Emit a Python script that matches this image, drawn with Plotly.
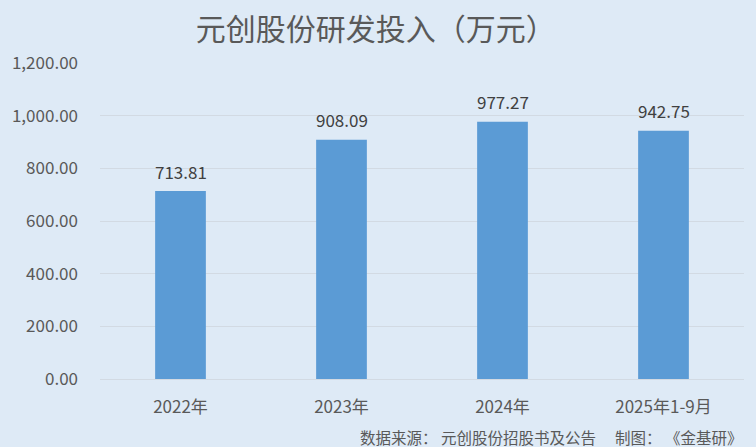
import plotly.graph_objects as go

categories = ["2022年", "2023年", "2024年", "2025年1-9月"]
values = [713.81, 908.09, 977.27, 942.75]
value_labels = ["713.81", "908.09", "977.27", "942.75"]
tick_vals = [0, 200, 400, 600, 800, 1000, 1200]
tick_text = ["0.00", "200.00", "400.00", "600.00", "800.00", "1,000.00", "1,200.00"]

BG = "#DEEAF6"
FONT = "Noto Sans CJK SC"

fig = go.Figure()
fig.add_trace(go.Bar(
    x=categories, y=values,
    marker=dict(color="#5B9BD5", line=dict(width=0)),
    width=0.315,
    hoverinfo="skip",
))

for c, v, t in zip(categories, values, value_labels):
    fig.add_annotation(x=c, y=v, text=t, showarrow=False, yshift=20,
                       font=dict(family=FONT, size=17, color="#404040"))

fig.add_annotation(xref="paper", yref="paper", x=1.0, y=-0.1835, xanchor="right", yanchor="middle",
                   text="数据来源： 元创股份招股书及公告　 制图： 《金基研》", showarrow=False,
                   font=dict(family=FONT, size=15.5, color="#595959"))

fig.update_layout(
    width=756, height=447,
    paper_bgcolor=BG, plot_bgcolor=BG,
    margin=dict(l=98, r=12, t=63, b=68),
    showlegend=False,
    title=dict(text="元创股份研发投入（万元）", x=0.497, xanchor="center", y=0.933, yanchor="middle",
               font=dict(family=FONT, size=30, color="#595959")),
    xaxis=dict(showgrid=False, showline=False, ticks="",
               ticklabelstandoff=16,
               tickfont=dict(family=FONT, size=17, color="#595959")),
    yaxis=dict(range=[0, 1200], tickvals=tick_vals, ticktext=tick_text,
               showgrid=True, gridcolor="#D2DAE3", gridwidth=1, zeroline=True,
               zerolinecolor="#D2DAE3", zerolinewidth=1, showline=False, ticks="",
               ticklabelstandoff=21,
               tickfont=dict(family=FONT, size=17, color="#595959")),
)

fig.write_html("out.html", config={"displayModeBar": False},
               post_script="document.body.style.margin='0';document.documentElement.style.overflow='hidden';document.body.style.overflow='hidden';")
